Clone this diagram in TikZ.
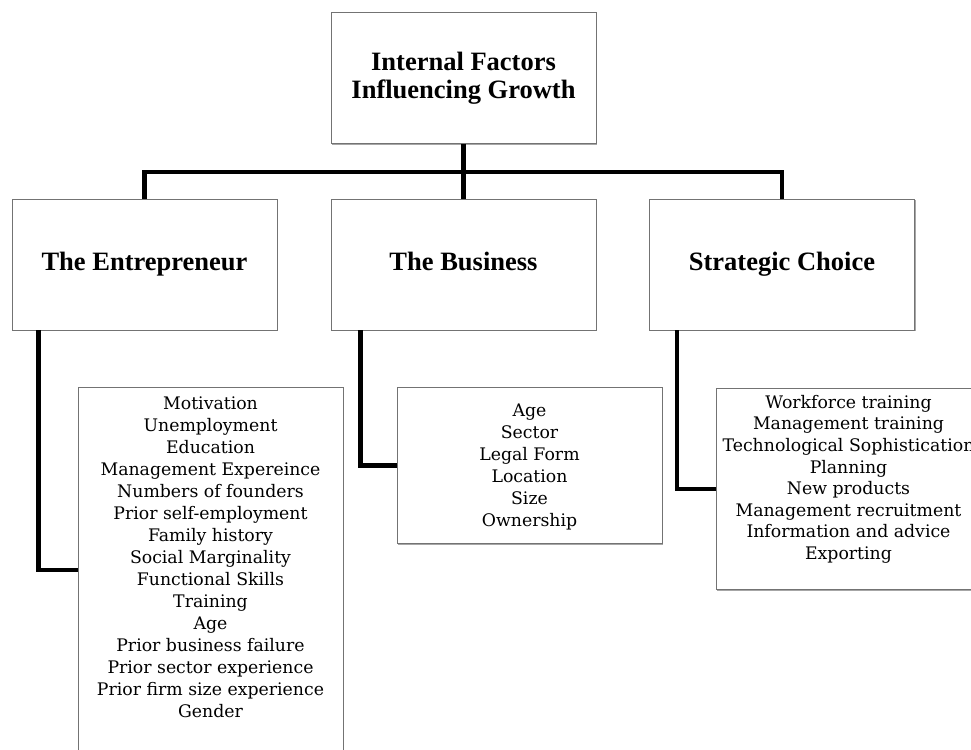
\documentclass[tikz,border=0pt]{standalone}
\usepackage{fontspec}
\setmainfont{Liberation Serif}
\newfontfamily\listfont{DejaVu Serif}
\usetikzlibrary{shadows}
\begin{document}
\begin{tikzpicture}[x=1pt,y=-1pt,
  box/.style={draw=black!55, line width=0.9pt, fill=white, rectangle, inner sep=0pt,
    drop shadow={shadow xshift=1.3pt, shadow yshift=-1.3pt, opacity=0.35, fill=black}},
  head/.style={box, minimum width=265pt, minimum height=131pt,
    font=\bfseries\fontsize{26.5}{28}\selectfont, align=center},
  lst/.style={box, minimum width=265pt, anchor=north},
  ltext/.style={font=\listfont\fontsize{17.3}{22}\selectfont, align=center, inner sep=0pt, anchor=north},
  conn/.style={line width=4.3pt, line join=miter}
]
\useasboundingbox (0,0) rectangle (971,749);
\clip (0,0) rectangle (971,749);
\fill[white] (0,0) rectangle (971,749);

\node[head] (top) at (463.5,78) {Internal Factors\\Influencing Growth};
\node[head] (ent) at (144.5,264.5) {\strut The Entrepreneur};
\node[head] (bus) at (463.5,264.5) {\strut The Business};
\node[head] (str) at (782,264.5) {\strut Strategic Choice};

\node[lst, minimum height=380pt] (entl) at (210.5,387) {};
\node[lst, minimum height=156pt] (busl) at (529.5,387) {};
\node[lst, minimum height=201pt] (strl) at (848.5,388) {};

\node[ltext] (entt) at (210.5,397) {Motivation\\Unemployment\\Education\\Management Expereince\\Numbers of founders\\Prior self-employment\\Family history\\Social Marginality\\Functional Skills\\Training\\Age\\Prior business failure\\Prior sector experience\\Prior firm size experience\\Gender};
\node[ltext] (bust) at (529.5,404) {Age\\Sector\\Legal Form\\Location\\Size\\Ownership};
\node[ltext, font=\listfont\fontsize{17.3}{21.6}\selectfont] (strt) at (848.5,395) {Workforce training\\Management training\\Technological Sophistication\\Planning\\New products\\Management recruitment\\Information and advice\\Exporting};

\coordinate (j) at (463.5,172);
\draw[conn] (top.south) -- (bus.north);
\draw[conn] (ent.north) -- (ent.north |- j) -- (str.north |- j) -- (str.north);
\draw[conn] ([xshift=27pt]ent.south west) |- ([yshift=-183pt]entl.north west);
\draw[conn] ([xshift=30pt]bus.south west) |- (busl.west);
\draw[conn] ([xshift=28pt]str.south west) |- (strl.west);
\end{tikzpicture}
\end{document}
